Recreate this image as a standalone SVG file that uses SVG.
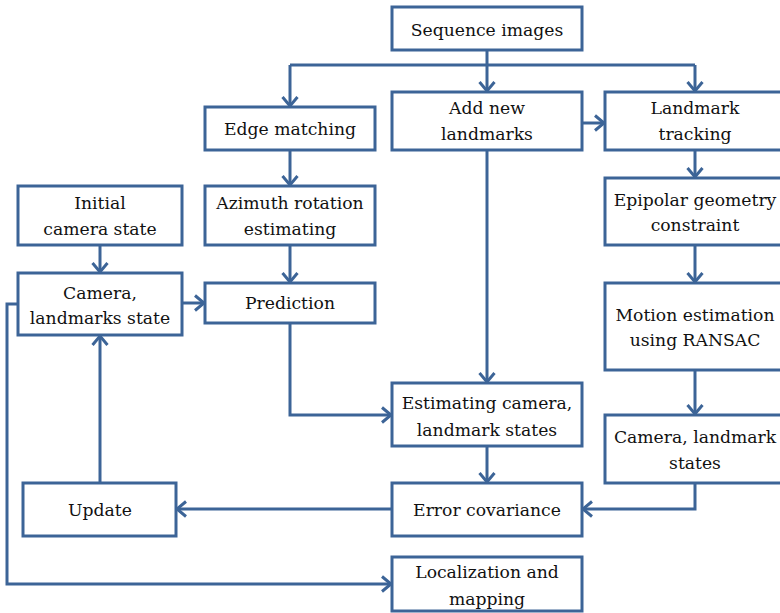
<svg xmlns="http://www.w3.org/2000/svg" width="780" height="613" viewBox="0 0 780 613">
<style>
.box{fill:#fff;stroke:#3C6497;stroke-width:3}
.c{fill:none;stroke:#3C6497;stroke-width:3}
.t text{font-size:17.2px;fill:#111;text-anchor:middle}
</style>
<defs>
<marker id="a" markerUnits="userSpaceOnUse" markerWidth="20" markerHeight="20" viewBox="-12 -10 14 20" refX="0" refY="0" orient="auto">
<path d="M-9,-7.5 L0,0 L-9,7.5" fill="none" stroke="#3C6497" stroke-width="3"/>
</marker>
</defs>
<rect width="780" height="613" fill="#fff"/>
<g id="connectors">
<path class="c" d="M487,50 V65 M290,65 H695"/>
<path class="c" d="M290,65 V106" marker-end="url(#a)"/>
<path class="c" d="M487,65 V91" marker-end="url(#a)"/>
<path class="c" d="M695,65 V91" marker-end="url(#a)"/>
<path class="c" d="M290,150 V185" marker-end="url(#a)"/>
<path class="c" d="M290,245 V282" marker-end="url(#a)"/>
<path class="c" d="M100,245 V272" marker-end="url(#a)"/>
<path class="c" d="M182,303 H204" marker-end="url(#a)"/>
<path class="c" d="M582,123 H604" marker-end="url(#a)"/>
<path class="c" d="M695,150 V177" marker-end="url(#a)"/>
<path class="c" d="M695,245 V282" marker-end="url(#a)"/>
<path class="c" d="M695,370 V414" marker-end="url(#a)"/>
<path class="c" d="M487,150 V382" marker-end="url(#a)"/>
<path class="c" d="M290,323 V415 H391" marker-end="url(#a)"/>
<path class="c" d="M487,446 V482" marker-end="url(#a)"/>
<path class="c" d="M695,483 V509 H583" marker-end="url(#a)"/>
<path class="c" d="M392,509 H177" marker-end="url(#a)"/>
<path class="c" d="M100,483 V336" marker-end="url(#a)"/>
<path class="c" d="M18,304 H7 V584 H391" marker-end="url(#a)"/>
</g>
<g class="t" font-family="'DejaVu Serif', 'Liberation Serif', serif">
<g id="seq"><rect class="box" x="392" y="7" width="190" height="43"/><text x="487" y="36">Sequence images</text></g>
<g id="edge"><rect class="box" x="205" y="107" width="170" height="43"/><text x="290" y="135">Edge matching</text></g>
<g id="addnew"><rect class="box" x="392" y="92" width="190" height="58"/><text x="487" y="114">Add new</text><text x="487" y="140">landmarks</text></g>
<g id="lmtrack"><rect class="box" x="605" y="92" width="182" height="58"/><text x="695" y="114">Landmark</text><text x="695" y="140">tracking</text></g>
<g id="init"><rect class="box" x="18" y="186" width="164" height="59"/><text x="100" y="209">Initial</text><text x="100" y="235">camera state</text></g>
<g id="azimuth"><rect class="box" x="205" y="186" width="170" height="59"/><text x="290" y="209">Azimuth rotation</text><text x="290" y="235">estimating</text></g>
<g id="epipolar"><rect class="box" x="605" y="178" width="182" height="67"/><text x="695" y="206">Epipolar geometry</text><text x="695" y="231">constraint</text></g>
<g id="camera"><rect class="box" x="18" y="273" width="164" height="62"/><text x="100" y="299">Camera,</text><text x="100" y="324">landmarks state</text></g>
<g id="prediction"><rect class="box" x="205" y="283" width="170" height="40"/><text x="290" y="309">Prediction</text></g>
<g id="motion"><rect class="box" x="605" y="283" width="182" height="87"/><text x="695" y="321">Motion estimation</text><text x="695" y="346">using RANSAC</text></g>
<g id="estimating"><rect class="box" x="392" y="383" width="190" height="63"/><text x="487" y="409">Estimating camera,</text><text x="487" y="436">landmark states</text></g>
<g id="camlm"><rect class="box" x="605" y="415" width="182" height="68"/><text x="695" y="443">Camera, landmark</text><text x="695" y="469">states</text></g>
<g id="error"><rect class="box" x="392" y="483" width="190" height="53"/><text x="487" y="516">Error covariance</text></g>
<g id="update"><rect class="box" x="23" y="483" width="153" height="53"/><text x="100" y="516">Update</text></g>
<g id="local"><rect class="box" x="392" y="557" width="190" height="54"/><text x="487" y="578">Localization and</text><text x="487" y="605">mapping</text></g>
</g>
</svg>
